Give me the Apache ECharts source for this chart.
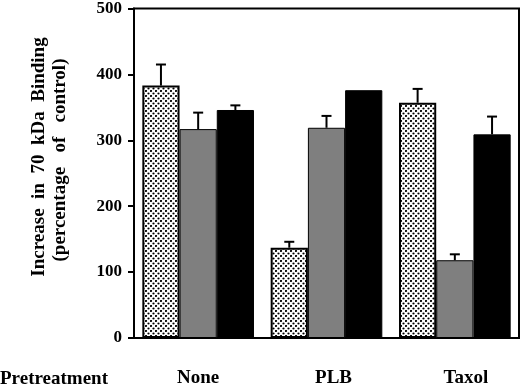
<!DOCTYPE html>
<html lang="en">
<head>
    <meta http-equiv="Content-Type" content="text/html; charset=UTF-8">
    <title>70 kDa Binding</title>
    <script type="text/javascript" src="https://cdn.jsdelivr.net/npm/echarts@6/dist/echarts.min.js"></script>
</head>
<body style="margin:0;width:520px;height:388px;background:#fff">
<div id="main" style="width:520px;height:388px"></div>
<script type="text/javascript">
    // data
    var categories = ['None', 'PLB', 'Taxol'];
    var dottedVals = [383, 137, 357];
    var dottedErr = [32, 9, 21];
    var grayVals = [317, 319, 118];
    var grayErr = [25, 18, 9];
    var blackVals = [346, 376, 309];
    var blackErr = [7, 0, 27];
    var yTicks = [0, 100, 200, 300, 400, 500];

    var serif = "'Liberation Serif', 'Times New Roman', serif";
    var barPct = 0.29;

    // dotted fill: staggered black dots on white
    var tile = document.createElement('canvas');
    tile.width = 5;
    tile.height = 5;
    var ctx = tile.getContext('2d');
    ctx.fillStyle = '#fff';
    ctx.fillRect(0, 0, 5, 5);
    ctx.fillStyle = '#000';
    ctx.beginPath(); ctx.arc(1, 1, 1.1, 0, Math.PI * 2); ctx.fill();
    ctx.beginPath(); ctx.arc(3.5, 3.5, 1.1, 0, Math.PI * 2); ctx.fill();

    // error bar items: [category, value, error, series slot]
    var errData = [];
    [[dottedVals, dottedErr], [grayVals, grayErr], [blackVals, blackErr]].forEach(function (pair, s) {
        pair[0].forEach(function (v, i) {
            if (pair[1][i] > 0) errData.push([i, v, pair[1][i], s]);
        });
    });

    var myChart = echarts.init(document.getElementById('main'));

    myChart.setOption({
        animation: false,
        grid: {
            left: 134, right: 1, top: 6, bottom: 50,
            show: true, borderColor: '#000', borderWidth: 2
        },
        xAxis: {
            type: 'category',
            data: categories,
            axisLine: {lineStyle: {color: '#000', width: 2}},
            axisTick: {alignWithLabel: true, length: 6, lineStyle: {color: '#000', width: 2}},
            axisLabel: {
                margin: 31,
                formatter: function (v, i) {
                    return '{c' + i + '|' + v + '}';
                },
                rich: {
                    c0: {fontFamily: serif, fontWeight: 'bold', fontSize: 19, color: '#000'},
                    c1: {fontFamily: serif, fontWeight: 'bold', fontSize: 19, color: '#000', padding: [0, 0, 0, 14]},
                    c2: {fontFamily: serif, fontWeight: 'bold', fontSize: 19, color: '#000', padding: [0, 0, 0, 22]}
                }
            }
        },
        yAxis: {
            type: 'value',
            min: yTicks[0],
            max: yTicks[yTicks.length - 1],
            interval: 100,
            splitLine: {show: false},
            axisLine: {show: true, lineStyle: {color: '#000', width: 2}},
            axisTick: {show: true, length: 6, lineStyle: {color: '#000', width: 2}},
            axisLabel: {
                margin: 12,
                fontFamily: serif, fontWeight: 'bold', fontSize: 17, color: '#000'
            }
        },
        series: [
            {
                name: 'dotted', type: 'bar', data: dottedVals,
                barWidth: (barPct * 100) + '%', barGap: '0%',
                itemStyle: {color: {image: tile, repeat: 'repeat'}, borderColor: '#000', borderWidth: 2}
            },
            {
                name: 'gray', type: 'bar', data: grayVals,
                barWidth: (barPct * 100) + '%', barGap: '0%',
                itemStyle: {color: '#7f7f7f', borderColor: '#000', borderWidth: 1}
            },
            {
                name: 'black', type: 'bar', data: blackVals,
                barWidth: (barPct * 100) + '%', barGap: '0%',
                itemStyle: {color: '#000', borderColor: '#000', borderWidth: 1}
            },
            {
                name: 'error', type: 'custom', data: errData, z: 10,
                renderItem: function (params, api) {
                    var base = api.coord([api.value(0), api.value(1)]);
                    var tip = api.coord([api.value(0), api.value(1) + api.value(2)]);
                    var bw = api.size([1, 0])[0] * barPct;
                    var cx = base[0] + (api.value(3) - 1) * bw;
                    var st = {stroke: '#000', lineWidth: 2};
                    return {
                        type: 'group',
                        children: [
                            {type: 'line', shape: {x1: cx, y1: base[1], x2: cx, y2: tip[1]}, style: st},
                            {type: 'line', shape: {x1: cx - 5, y1: tip[1], x2: cx + 5, y2: tip[1]}, style: st}
                        ]
                    };
                }
            }
        ],
        graphic: [
            {
                type: 'text', x: 39, y: 157, rotation: Math.PI / 2,
                style: {
                    text: 'Increase  in  70  kDa  Binding',
                    font: 'bold 19px ' + serif, fill: '#000',
                    textAlign: 'center', textVerticalAlign: 'middle'
                }
            },
            {
                type: 'text', x: 60, y: 160, rotation: Math.PI / 2,
                style: {
                    text: '(percentage   of   control)',
                    font: 'bold 19px ' + serif, fill: '#000',
                    textAlign: 'center', textVerticalAlign: 'middle'
                }
            },
            {
                type: 'text', left: 0, top: 370,
                style: {
                    text: 'Pretreatment',
                    font: 'bold 19px ' + serif, fill: '#000'
                }
            }
        ]
    });
</script>
</body>
</html>
